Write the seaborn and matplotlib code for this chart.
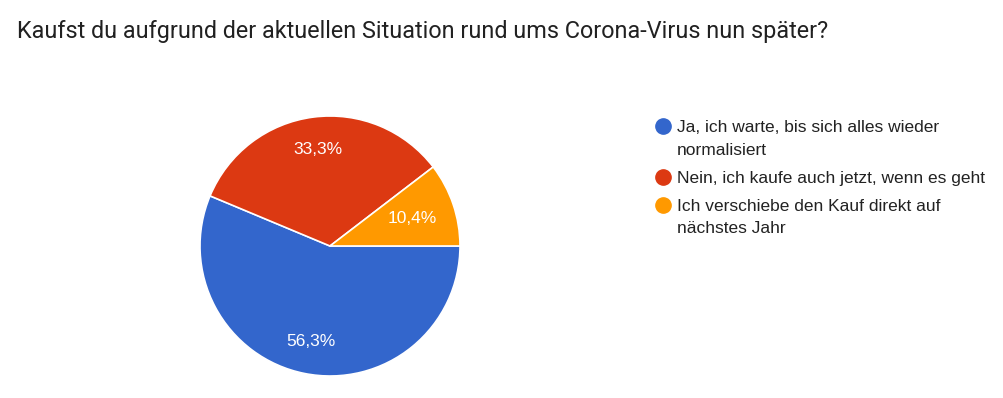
"""Pie chart: Kaufverhalten wegen Corona-Virus"""
import matplotlib
matplotlib.use("Agg")
import matplotlib.pyplot as plt
from matplotlib.lines import Line2D
import seaborn as sns

# data
answers = [
    "Ja, ich warte, bis sich alles wieder\nnormalisiert",
    "Nein, ich kaufe auch jetzt, wenn es geht",
    "Ich verschiebe den Kauf direkt auf\nnächstes Jahr",
]
shares = [56.3, 33.3, 10.4]
colors = ["#3366cc", "#dc3912", "#ff9900"]

title = "Kaufst du aufgrund der aktuellen Situation rund ums Corona-Virus nun später?"

sns.set_theme(style="white")
plt.rcParams["font.family"] = ["Liberation Sans", "DejaVu Sans"]

W, H = 1004, 398
fig = plt.figure(figsize=(W / 100, H / 100), dpi=100)
fig.patch.set_facecolor("white")

# pie axes: center (330, 246), radius 130 px
ax = fig.add_axes([200 / W, (H - 376) / H, 260 / W, 260 / H])
wedges, texts, autotexts = ax.pie(
    shares,
    colors=colors,
    startangle=0,
    counterclock=False,
    autopct=lambda p: f"{p:.1f}%".replace(".", ","),
    pctdistance=0.75,
    wedgeprops=dict(edgecolor="white", linewidth=1.2),
    textprops=dict(color="white", fontsize=12.5),
)
# the small slice has its label a bit further in
x, y = autotexts[2].get_position()
autotexts[2].set_position((x * 0.67 / 0.75, y * 0.67 / 0.75))
ax.set_xlim(-1, 1)
ax.set_ylim(-1, 1)
ax.set_aspect("equal")
ax.axis("off")

# title
fig.text(17 / W, 1 - 38 / H, title, fontsize=16.8, color="#212121",
         family=["Roboto", "DejaVu Sans"], ha="left", va="baseline")

# legend with round markers
handles = [Line2D([], [], marker="o", linestyle="", markersize=11,
                  markerfacecolor=c, markeredgecolor=c) for c in colors]
leg = fig.legend(handles, answers, loc="upper left",
                 bbox_to_anchor=(657 / W, 1 - 120 / H), frameon=False,
                 fontsize=12.5, handlelength=0.7, handletextpad=0.45,
                 labelspacing=0.75, borderpad=0, borderaxespad=0)
for t in leg.get_texts():
    t.set_color("#222222")
    t.set_linespacing(1.64)
# put the marker next to the first line of each label
for col in leg._legend_handle_box.get_children():
    for item in col.get_children():
        item.align = "top"

fig.savefig("out.png", dpi=100)
